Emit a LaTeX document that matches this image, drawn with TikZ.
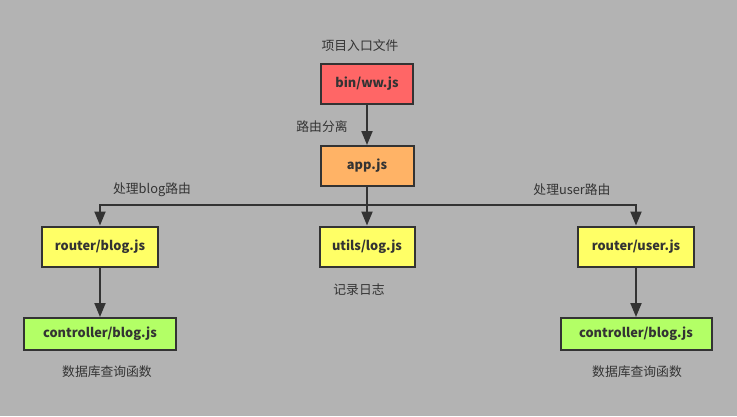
\documentclass[tikz,border=0pt]{standalone}
\usepackage{fontspec}
\setmainfont{Noto Sans CJK SC}
\usetikzlibrary{arrows.meta}
\definecolor{bgGray}{HTML}{B3B3B3}
\definecolor{lineDark}{HTML}{333333}
\definecolor{entryRed}{HTML}{FF6666}
\definecolor{appOrange}{HTML}{FFB366}
\definecolor{modYellow}{HTML}{FFFF66}
\definecolor{ctrlGreen}{HTML}{B3FF66}
\tikzset{
  box/.style={draw=lineDark, line width=2pt, inner sep=0pt, minimum height=40,
    text=lineDark, font=\bfseries\fontsize{12.8}{15}\selectfont},
  note/.style={text=lineDark, inner sep=0pt, font=\fontsize{12.8}{15}\selectfont},
  link/.style={draw=lineDark, line width=2pt},
  arr/.style={link, -{Triangle[length=14pt,width=11pt]}}
}
\begin{document}
\begin{tikzpicture}[x=1pt,y=1pt,yscale=-1]
\fill[bgGray] (0,0) rectangle (737,416);
\useasboundingbox (0,0) rectangle (737,416);

% boxes
\node[box, fill=entryRed, minimum width=92] (bin) at (367,84) {bin/ww.js};
\node[box, fill=appOrange, minimum width=93] (app) at (367,166) {app.js};
\node[box, fill=modYellow, minimum width=116] (rblog) at (100,246.5) {router/blog.js};
\node[box, fill=modYellow, minimum width=95] (utils) at (367,246.5) {utils/log.js};
\node[box, fill=modYellow, minimum width=116] (ruser) at (636,246.5) {router/user.js};
\node[box, fill=ctrlGreen, minimum width=152, minimum height=32] (cblog) at (100,334) {controller/blog.js};
\node[box, fill=ctrlGreen, minimum width=151, minimum height=32] (cuser) at (636,334) {controller/blog.js};

% labels
\node[note] (lentry) at (360,46) {项目入口文件};
\node[note] (lsplit) at (322,127) {路由分离};
\node[note] (lblog) at (152,190) {处理blog路由};
\node[note] (luser) at (572,190) {处理user路由};
\node[note] (llog) at (359,290) {记录日志};
\node[note] (ldbl) at (107,372) {数据库查询函数};
\node[note] (ldbr) at (637,372) {数据库查询函数};

% connectors
\coordinate (split) at (367,205);
\draw[arr] (bin) -- (app);
\draw[link] (app) -- (split);
\draw[arr] (split) -| (rblog.north);
\draw[arr] (split) -| (ruser.north);
\draw[arr] (split) -- (utils);
\draw[arr] (rblog) -- (cblog);
\draw[arr] (ruser) -- (cuser);

\end{tikzpicture}
\end{document}
